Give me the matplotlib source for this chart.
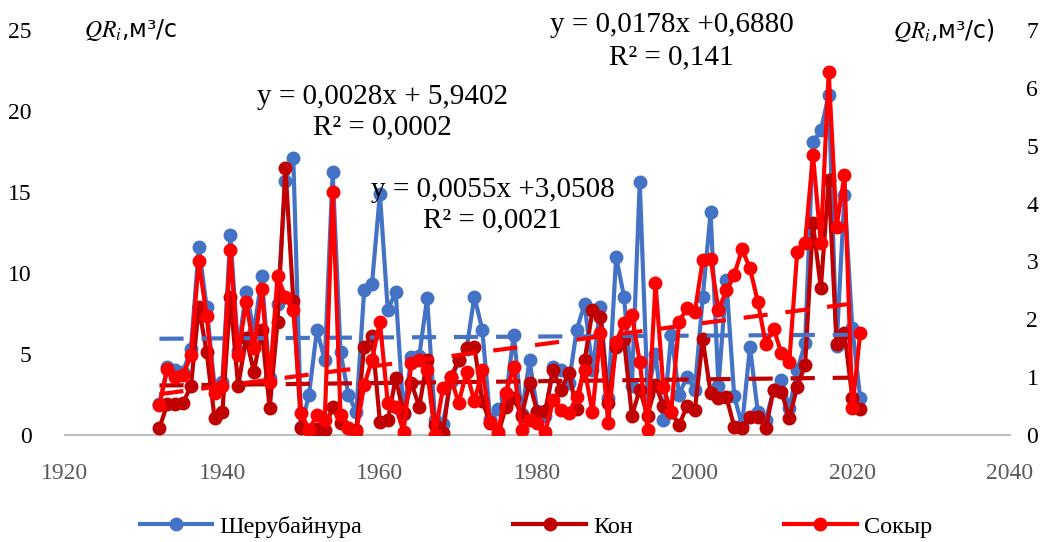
import numpy as np
import matplotlib
matplotlib.use("Agg")
import matplotlib.pyplot as plt

plt.rcParams['font.family'] = ['Liberation Serif', 'DejaVu Serif']
plt.rcParams['mathtext.fontset'] = 'stix'

# years of observation
years = np.arange(1932, 2022)

# Шерубайнура, m3/s (left axis)
sherub = [1.9, 4.2, 4.0, 3.9, 5.3, 11.6, 7.9, 3.0, 3.3, 12.35,
          5.2, 8.85, 6.4, 9.8, 3.5, 8.1, 15.7, 17.1, 0.5, 2.5,
          6.5, 4.6, 16.25, 5.1, 2.5, 1.4, 8.95, 9.35, 14.9, 7.7,
          8.85, 1.3, 4.8, 4.9, 8.45, 0.9, 0.7, 3.3, 4.6, 5.3,
          8.55, 6.5, 1.0, 1.6, 2.3, 6.2, 1.3, 4.6, 1.5, 1.2,
          4.2, 4.0, 3.2, 6.5, 8.1, 4.0, 7.9, 2.3, 11.0, 8.55,
          3.0, 15.6, 2.5, 5.0, 0.9, 6.2, 2.5, 3.6, 2.8, 8.5,
          13.75, 3.0, 9.55, 2.4, 0.6, 5.45, 1.4, 0.9, 2.8, 3.4,
          1.65, 4.0, 5.66, 18.1, 18.8, 21.0, 5.5, 14.8, 6.6, 2.3]

# Кон, m3/s (left axis)
kon = [0.45, 1.9, 1.9, 2.0, 3.0, 7.9, 5.1, 1.05, 1.45, 8.5,
       3.0, 6.0, 3.9, 6.5, 1.65, 7.0, 16.5, 8.3, 0.43, 0.3,
       0.4, 0.3, 1.75, 0.74, 0.45, 0.3, 5.45, 6.1, 0.8, 0.9,
       3.5, 1.35, 3.2, 1.75, 4.6, 0.6, 0.1, 3.6, 4.6, 5.4,
       5.45, 2.1, 0.74, 0.0, 1.75, 2.3, 1.2, 3.2, 1.4, 1.5,
       4.0, 2.8, 3.8, 1.6, 4.6, 7.7, 7.3, 2.0, 5.45, 5.9,
       1.2, 2.8, 1.2, 3.1, 1.8, 1.44, 0.6, 1.8, 1.54, 5.9,
       2.6, 2.26, 2.36, 0.51, 0.41, 1.13, 1.13, 0.41, 2.78, 2.67,
       1.03, 2.98, 4.3, 13.07, 9.05, 15.74, 5.6, 6.3, 2.3, 1.6]

# Сокыр, m3/s (right axis)
sokyr = [0.52, 1.14, 1.01, 1.04, 1.38, 3.0, 2.06, 0.72, 0.85, 3.2,
         1.38, 2.3, 1.5, 2.52, 0.92, 2.74, 2.39, 2.16, 0.38, 0.09,
         0.35, 0.26, 4.2, 0.35, 0.12, 0.06, 0.86, 1.3, 1.96, 0.55,
         0.49, 0.06, 1.24, 1.3, 1.12, 0.0, 0.81, 1.0, 0.55, 1.09,
         0.58, 1.12, 0.23, 0.06, 0.73, 1.18, 0.09, 0.26, 0.2, 0.06,
         0.6, 0.43, 0.38, 0.66, 1.12, 0.4, 1.76, 0.2, 1.61, 1.93,
         2.07, 1.27, 0.09, 2.62, 0.83, 0.4, 1.96, 2.19, 2.13, 3.02,
         3.05, 2.16, 2.5, 2.77, 3.21, 2.88, 2.3, 1.58, 1.84, 1.41,
         1.27, 3.17, 3.32, 4.84, 3.32, 6.28, 3.6, 4.49, 0.46, 1.76]

# linear trend coefficients (x = index of year) as printed on the chart
trend_sherub = (0.0028, 5.9402)
trend_kon = (0.0055, 3.0508)
trend_sokyr = (0.0178, 0.6880)

c_blue, c_dred, c_red = '#4472C4', '#C00000', '#FF0000'

fig = plt.figure(figsize=(10.51, 5.42), dpi=100)
ax = fig.add_axes([0.0618, 0.1974, 0.899, 0.7472])
ax2 = ax.twinx()

idx = np.arange(1, len(years) + 1)
dash = (5.8, 4.3)

l1, = ax.plot(years, sherub, color=c_blue, lw=3, marker='o', ms=9, zorder=2)
l2, = ax.plot(years, kon, color=c_dred, lw=3, marker='o', ms=9, zorder=3)
ax.plot(years, trend_sherub[0] * idx + trend_sherub[1], color=c_blue, lw=3,
        dashes=dash, zorder=4)
ax.plot(years, trend_kon[0] * idx + trend_kon[1], color=c_dred, lw=3,
        dashes=dash, zorder=4)

l3, = ax2.plot(years, sokyr, color=c_red, lw=3, marker='o', ms=9, zorder=2)
ax2.plot(years, trend_sokyr[0] * idx + trend_sokyr[1], color=c_red, lw=3,
         dashes=dash, zorder=3)

ax.set_xlim(1920, 2040)
ax.set_ylim(0, 25)
ax2.set_ylim(0, 7)
ax.set_xticks(range(1920, 2041, 20))
ax.set_yticks(range(0, 26, 5))
ax2.set_yticks(range(0, 8))

for a in (ax, ax2):
    a.tick_params(length=0, labelsize=17, colors='#000000')
    for s in a.spines.values():
        s.set_visible(False)
ax.tick_params(axis='x', pad=20, labelcolor='#595959')
ax.tick_params(axis='y', pad=24)
ax2.tick_params(axis='y', pad=12)
ax.spines['bottom'].set_visible(True)
ax.spines['bottom'].set_color('#BFBFBF')
ax.spines['bottom'].set_linewidth(1.5)

# axis captions
fig.text(0.080, 0.944, r'$QR_i$,м³/с', fontsize=17, family='DejaVu Sans', va='center')
fig.text(0.850, 0.944, r'$QR_i$,м³/с)', fontsize=17, family='DejaVu Sans', va='center')

# trend equations
fig.text(0.364, 0.821, 'y = 0,0028x + 5,9402', fontsize=21, ha='center', va='center')
fig.text(0.364, 0.765, 'R² = 0,0002', fontsize=21, ha='center', va='center')
fig.text(0.469, 0.650, 'y = 0,0055x +3,0508', fontsize=21, ha='center', va='center')
fig.text(0.469, 0.594, 'R² = 0,0021', fontsize=21, ha='center', va='center')
fig.text(0.639, 0.954, 'y = 0,0178x +0,6880', fontsize=21, ha='center', va='center')
fig.text(0.639, 0.895, 'R² = 0,141', fontsize=21, ha='center', va='center')

fig.legend([l1, l2, l3], ['Шерубайнура', 'Кон', 'Сокыр'], loc='center',
           bbox_to_anchor=(0.51, 0.028), ncol=3, frameon=False, fontsize=17.5,
           handlelength=3.0, handletextpad=0.3, columnspacing=6.2, markerscale=1.0)

fig.savefig('out.png', dpi=100)
